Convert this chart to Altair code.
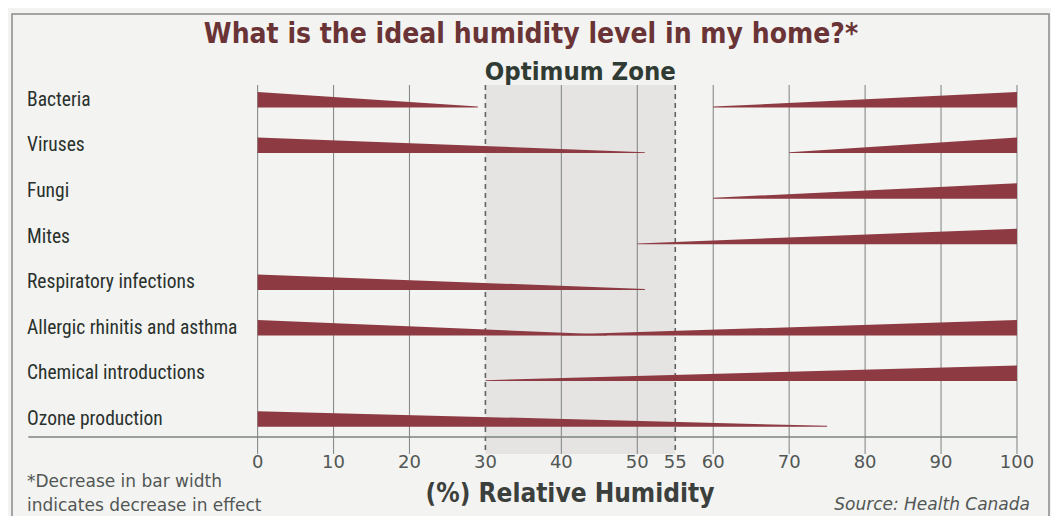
import altair as alt
import pandas as pd

# ---- data ----
categories = ["Bacteria", "Viruses", "Fungi", "Mites",
              "Respiratory infections", "Allergic rhinitis and asthma",
              "Chemical introductions", "Ozone production"]
# effect decreasing from 0 % RH down to this humidity (None = no low-humidity effect)
low_end = [29, 51, None, None, 51, 46, None, 75]
# effect increasing from this humidity up to 100 % RH (None = no high-humidity effect)
high_start = [60, 70, 60, 50, None, 40, 30, None]
tick_values = [0, 10, 20, 30, 40, 50, 55, 60, 70, 80, 90, 100]
optimum = [30, 55]

BAR = "#8d3a42"
W, H = 1043, 508
X_DOM = [-32.87, 104.48]
Y_DOM = [-2.182, 8.958]
THICK = 0.34  # max bar width, in row units

rows = []
for i, c in enumerate(categories):
    if low_end[i] is not None:
        wid = f"{c}-low"
        rows.append(dict(wid=wid, x=0, top=i - THICK, bot=i))
        rows.append(dict(wid=wid, x=low_end[i], top=i - 0.02, bot=i))
    if high_start[i] is not None:
        wid = f"{c}-high"
        rows.append(dict(wid=wid, x=high_start[i], top=i - 0.02, bot=i))
        rows.append(dict(wid=wid, x=100, top=i - THICK, bot=i))
wedges = pd.DataFrame(rows)

xs = alt.Scale(domain=X_DOM, nice=False, zero=False)
ys = alt.Scale(domain=Y_DOM, nice=False, zero=False, reverse=True)

NARROW = "Roboto Condensed, DejaVu Sans Condensed, sans-serif"
HEAVY = "DejaVu Sans Condensed, sans-serif"
ROUND = "DejaVu Sans, sans-serif"

ticks_df = pd.DataFrame({"v": tick_values,
                         "dash": [v in optimum for v in tick_values],
                         "lab": [str(v) for v in tick_values]})
cat_df = pd.DataFrame({"cat": categories, "row": list(range(len(categories)))})
cat_df["mid"] = cat_df["row"] - THICK / 2

frame = alt.Chart(pd.DataFrame({"a": [0]})).mark_rect(
    fill=None, stroke="#8a8a8a", strokeWidth=1.5
).encode(x=alt.value(4), x2=alt.value(1041), y=alt.value(6), y2=alt.value(560))

zone = alt.Chart(pd.DataFrame({"a": [optimum[0]], "b": [optimum[1]]})).mark_rect(
    color="#e6e3e3"
).encode(x=alt.X("a:Q", scale=xs, axis=None), x2="b:Q",
         y=alt.value(77), y2=alt.value(446))

grid_solid = alt.Chart(ticks_df).transform_filter("!datum.dash").mark_rule(
    color="#868c89", strokeWidth=1.1
).encode(x=alt.X("v:Q", scale=xs, axis=None), y=alt.value(77), y2=alt.value(446))

grid_dash = alt.Chart(ticks_df).transform_filter("datum.dash").mark_rule(
    color="#5f6562", strokeWidth=1.6, strokeDash=[5, 4]
).encode(x=alt.X("v:Q", scale=xs, axis=None), y=alt.value(77), y2=alt.value(446))

baseline = alt.Chart(pd.DataFrame({"a": [-30.2], "b": [100]})).mark_rule(
    color="#7d8380", strokeWidth=1.5
).encode(x=alt.X("a:Q", scale=xs, axis=None), x2="b:Q", y=alt.value(429))

bars = alt.Chart(wedges).mark_area(color=BAR, orient="vertical", opacity=1).encode(
    x=alt.X("x:Q", scale=xs, axis=None),
    y=alt.Y("top:Q", scale=ys, axis=None),
    y2="bot:Q",
    detail="wid:N",
)

cat_labels = alt.Chart(cat_df).mark_text(
    align="left", baseline="middle", font=NARROW, fontSize=19.5,
    color="#29312d"
).encode(x=alt.value(19), y=alt.Y("mid:Q", scale=ys, axis=None), text="cat:N")

tick_labels = alt.Chart(ticks_df).mark_text(
    align="center", baseline="middle", font=ROUND, fontSize=18, color="#525755"
).encode(x=alt.X("v:Q", scale=xs, axis=None), y=alt.value(455), text="lab:N")

def note(txt, x, y, **kw):
    return alt.Chart(pd.DataFrame({"t": [txt]})).mark_text(**kw).encode(
        x=alt.value(x), y=alt.value(y), text="t:N")

title = note("What is the ideal humidity level in my home?*", 523, 27,
             font=HEAVY, fontSize=28, fontWeight="bold", color="#6a3436",
             align="center", baseline="middle")
zone_title = alt.Chart(pd.DataFrame({"t": ["Optimum Zone"], "c": [sum(optimum) / 2]})).mark_text(
    font=HEAVY, fontSize=25.5, fontWeight="bold", color="#2f3b33",
    align="center", baseline="middle"
).encode(x=alt.X("c:Q", scale=xs, axis=None), y=alt.value(64), text="t:N")
axis_title = note("(%) Relative Humidity", 562, 486,
                  font=HEAVY, fontSize=26, fontWeight="bold", color="#3b403d",
                  align="center", baseline="middle")
foot1 = note("*Decrease in bar width", 19, 474, font=ROUND, fontSize=17,
             color="#525755", align="left", baseline="middle")
foot2 = note("indicates decrease in effect", 19, 498, font=ROUND, fontSize=17,
             color="#525755", align="left", baseline="middle")
source = note("Source: Health Canada", 1022, 497, font=ROUND, fontSize=17,
              fontStyle="italic", color="#525755", align="right", baseline="middle")

chart = alt.layer(
    frame, zone, grid_solid, grid_dash, baseline, bars, cat_labels, tick_labels,
    title, zone_title, axis_title, foot1, foot2, source
).properties(
    width=W, height=H,
    autosize=alt.AutoSizeParams(type="none"),
    padding=0,
    background="#f3f3f1",
).configure_view(stroke=None)

chart.save("out.html", embed_options={"renderer": "svg", "actions": False})
